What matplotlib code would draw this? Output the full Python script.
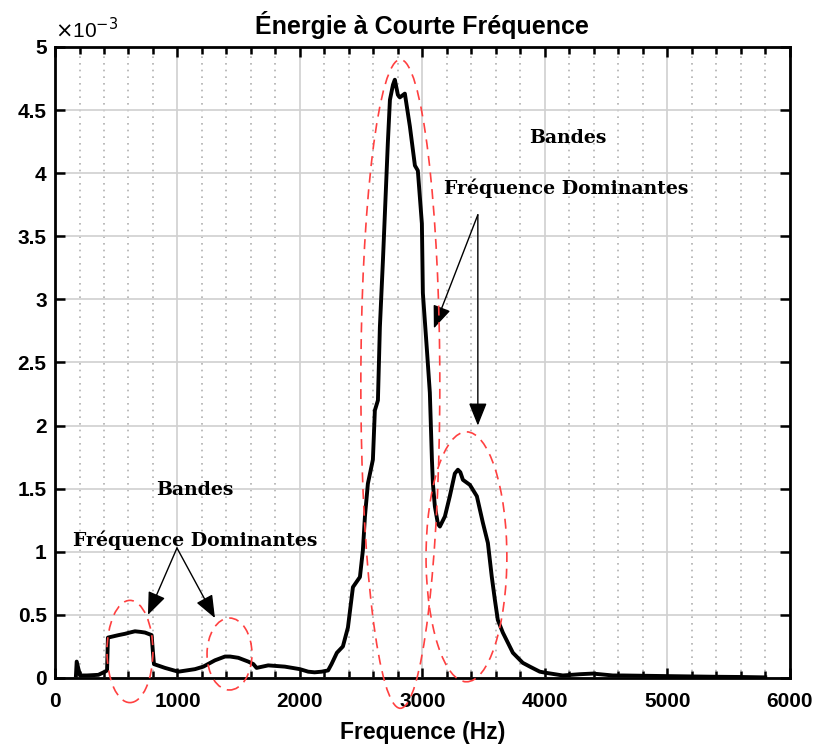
import matplotlib
matplotlib.use("Agg")
import matplotlib.pyplot as plt
from matplotlib.patches import Ellipse
from matplotlib.ticker import MultipleLocator, FormatStrFormatter

# Energy spectrum (values in units of 1e-3)
freq = [171, 177, 204, 260, 354, 408, 425, 432, 476, 520, 571, 610, 653, 700, 735,
        789, 800, 808, 898, 1007, 1143, 1211, 1306, 1388, 1430, 1497, 1578, 1620,
        1646, 1741, 1877, 2000, 2068, 2120, 2177, 2230, 2258, 2302, 2351, 2392,
        2433, 2490, 2514, 2531, 2555, 2596, 2612, 2637, 2653, 2678, 2718, 2735,
        2760, 2775, 2800, 2816, 2857, 2898, 2939, 2963, 2996, 3004, 3037, 3061,
        3078, 3086, 3102, 3127, 3143, 3184, 3224, 3265, 3290, 3310, 3331, 3388,
        3445, 3494, 3535, 3567, 3592, 3616, 3657, 3739, 3820, 3878, 3959, 4016,
        4147, 4286, 4392, 4555, 4637, 5000, 5371, 5600, 5800]
energy = [0.02, 0.13, 0.02, 0.02, 0.025, 0.05, 0.06, 0.32, 0.33, 0.34, 0.35, 0.36,
          0.37, 0.365, 0.36, 0.34, 0.2, 0.11, 0.08, 0.05, 0.07, 0.09, 0.14, 0.17,
          0.17, 0.16, 0.13, 0.11, 0.08, 0.10, 0.09, 0.07, 0.05, 0.045, 0.05, 0.06,
          0.11, 0.2, 0.25, 0.4, 0.72, 0.8, 1.01, 1.28, 1.54, 1.73, 2.12, 2.2, 2.78,
          3.31, 4.24, 4.58, 4.7, 4.74, 4.62, 4.6, 4.63, 4.37, 4.06, 4.02, 3.6,
          3.05, 2.6, 2.26, 1.73, 1.54, 1.36, 1.22, 1.2, 1.28, 1.44, 1.62, 1.65,
          1.63, 1.57, 1.53, 1.44, 1.23, 1.07, 0.8, 0.62, 0.46, 0.36, 0.2, 0.12,
          0.09, 0.05, 0.04, 0.02, 0.03, 0.035, 0.02, 0.02, 0.015, 0.01, 0.008,
          0.005]

# dashed ellipses: (centre freq, centre energy, width Hz, height)
ellipses = [(612, 0.21, 375, 0.81),
            (1425, 0.19, 367, 0.57),
            (2820, 2.33, 645, 5.14),
            (3360, 0.96, 660, 1.98)]

fig = plt.figure(figsize=(8.15, 7.54), dpi=100)
ax = fig.add_axes([0.0675, 0.1008, 0.9015, 0.837])

ax.plot(freq, energy, color="black", lw=2.8, zorder=3)

for cx, cy, w, h in ellipses:
    e = Ellipse((cx, cy), w, h, fill=False, edgecolor="#ff4040", ls=(0, (6, 4)),
                lw=1.2, clip_on=False, zorder=4)
    ax.add_patch(e)

ax.set_xlim(0, 6000)
ax.set_ylim(0, 5)
ax.xaxis.set_major_locator(MultipleLocator(1000))
ax.xaxis.set_minor_locator(MultipleLocator(200))
ax.yaxis.set_major_locator(MultipleLocator(0.5))
ax.yaxis.set_major_formatter(FormatStrFormatter("%g"))

ax.grid(True, which="major", color="#d0d0d0", lw=1.2, ls="-")
ax.grid(True, which="minor", axis="x", color="#b0b0b0", lw=1.2, ls=(0, (1, 3)))
ax.set_axisbelow(True)

ax.tick_params(which="both", direction="in", top=True, right=True, width=1.8)
ax.tick_params(which="major", length=7, labelsize=15)
ax.tick_params(axis="x", which="major", pad=10)
ax.tick_params(axis="y", which="major", pad=6)
ax.tick_params(which="minor", length=5)
for lab in ax.get_xticklabels() + ax.get_yticklabels():
    lab.set_fontweight("bold")
    lab.set_family("Liberation Sans")
for sp in ax.spines.values():
    sp.set_linewidth(2)

ax.set_title("Énergie à Courte Fréquence", fontsize=18, fontweight="bold",
             family="Liberation Sans", pad=9)
ax.set_xlabel("Frequence (Hz)", fontsize=16.5, fontweight="bold",
              family="Liberation Sans", labelpad=7)
ax.text(0.0, 1.008, r"$\times$10$^{-3}$", transform=ax.transAxes, fontsize=15,
        family="Liberation Sans", va="bottom", ha="left")

# annotations
tkw = dict(family="DejaVu Serif", fontsize=13.6, ha="center", va="center",
           fontweight="bold")
ax.text(4190, 4.28, "Bandes", **tkw)
ax.text(4171, 3.88, "Fréquence Dominantes", **tkw)
ax.text(1143, 1.49, "Bandes", **tkw)
ax.text(1143, 1.09, "Fréquence Dominantes", **tkw)

akw = dict(arrowstyle="-|>,head_length=0.7,head_width=0.28", color="black",
           lw=1.0, mutation_scale=20, shrinkA=0, shrinkB=0)
for start, end in [((3453, 3.67), (3094, 2.77)), ((3453, 3.67), (3453, 2.0)),
                   ((996, 1.03), (759, 0.5)), ((996, 1.03), (1306, 0.475))]:
    ax.annotate("", xy=end, xytext=start, arrowprops=akw)

fig.savefig("out.png", dpi=100)
